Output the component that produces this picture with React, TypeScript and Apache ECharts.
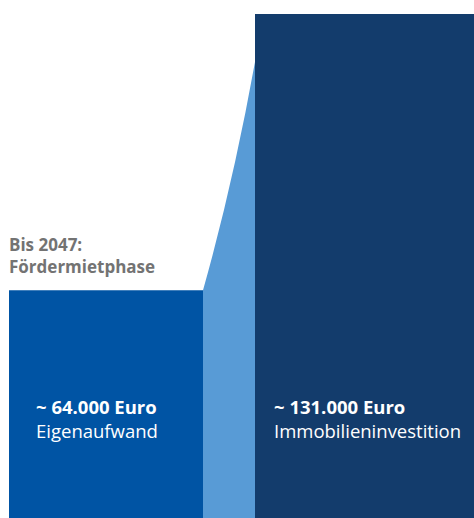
import React, { useEffect, useRef } from "react";
import * as echarts from "echarts";

// ---- data ----
const categories = ["Eigenaufwand", "Immobilieninvestition"];
const amounts = [64000, 131000];
const phaseLines = ["Bis 2047:", "Fördermietphase"];
const currency = "Euro";

// ---- layout / style (not data) ----
const VIEW_W = 474;
const VIEW_H = 518;
const CHART_H = 554; // baseline (zero) lies below the visible frame
const BAR_SPANS: [number, number][] = [
  [0, 194],
  [246, 465],
];
const BAR_COLORS = ["#0054a4", "#133c6c"];
const CONNECTOR_COLOR = "#589bd6";
const CONNECTOR_END_FRACTION = 0.911; // of right bar height
const CONNECTOR_CTRL_X = 0.577;
const CONNECTOR_CTRL_Y = 0.465;
const LABEL_OFFSET = [27, 19];
const LABEL_BASELINE_FROM_BOTTOM = 104.5;
const LABEL_LINE_GAP = 23.5;
const LABEL_FONT_SIZE = 18.5;
const PHASE_FONT_SIZE = 17;
const PHASE_LINE_GAP = 21.7;
const PHASE_BASELINE_ABOVE_BAR = 18;
const FONT = "'Open Sans', sans-serif";

const fmt = (v: number) => "~ " + v.toLocaleString("de-DE") + " " + currency;

export default function App() {
  const ref = useRef<HTMLDivElement>(null);
  useEffect(() => {
    if (!ref.current) return;
    const chart = echarts.init(ref.current, undefined, { renderer: "svg" });

    const barData = amounts.map((v, i) => [i, v]);

    const renderBar = (params: any, api: any) => {
      const idx = api.value(0);
      const val = api.value(1);
      const span = BAR_SPANS[idx];
      const tl = api.coord([span[0], val]);
      const br = api.coord([span[1], 0]);
      const children: any[] = [
        {
          type: "rect",
          shape: { x: tl[0], y: tl[1], width: br[0] - tl[0], height: br[1] - tl[1] },
          style: { fill: BAR_COLORS[idx] },
        },
      ];
      const lx = tl[0] + LABEL_OFFSET[idx];
      const b1 = VIEW_H - LABEL_BASELINE_FROM_BOTTOM;
      const capMid = 0.36 * LABEL_FONT_SIZE;
      children.push({
        type: "text",
        x: lx,
        y: b1 - capMid,
        style: {
          text: fmt(val),
          fill: "#ffffff",
          font: `bold ${LABEL_FONT_SIZE}px ${FONT}`,
          align: "left",
          verticalAlign: "middle",
        },
      });
      children.push({
        type: "text",
        x: lx,
        y: b1 + LABEL_LINE_GAP - capMid,
        style: {
          text: categories[idx],
          fill: "#ffffff",
          font: `normal ${LABEL_FONT_SIZE}px ${FONT}`,
          align: "left",
          verticalAlign: "middle",
        },
      });
      if (idx === 0) {
        const pm = 0.36 * PHASE_FONT_SIZE;
        const base2 = tl[1] - PHASE_BASELINE_ABOVE_BAR;
        const base1 = base2 - PHASE_LINE_GAP;
        [base1, base2].forEach((b, k) => {
          children.push({
            type: "text",
            x: tl[0],
            y: b - pm,
            style: {
              text: phaseLines[k],
              fill: "#737373",
              font: `bold ${PHASE_FONT_SIZE}px ${FONT}`,
              align: "left",
              verticalAlign: "middle",
            },
          });
        });
      }
      return { type: "group", children };
    };

    const renderConnector = (params: any, api: any) => {
      const a = api.value(0);
      const b = api.value(1);
      const x0 = BAR_SPANS[0][1];
      const x1 = BAR_SPANS[1][0];
      const endVal = b * CONNECTOR_END_FRACTION;
      const p0 = api.coord([x0, a]);
      const p1 = api.coord([x1, endVal]);
      const c = api.coord([x0 + CONNECTOR_CTRL_X * (x1 - x0), a + CONNECTOR_CTRL_Y * (endVal - a)]);
      const base = api.coord([x1, 0])[1];
      const d = `M${p0[0]} ${base} L${p0[0]} ${p0[1]} Q${c[0]} ${c[1]} ${p1[0]} ${p1[1]} L${p1[0]} ${p1[1] - 1} L${p1[0] + 1} ${p1[1] - 1} L${p1[0] + 1} ${base} Z`;
      return {
        type: "path",
        shape: { pathData: d },
        style: { fill: CONNECTOR_COLOR },
      };
    };

    chart.setOption({
      animation: false,
      grid: { left: 9, right: 0, top: 14, bottom: 0 },
      xAxis: { type: "value", min: 0, max: 465, show: false },
      yAxis: { type: "value", min: 0, max: 131000, show: false },
      series: [
        {
          type: "custom",
          renderItem: renderConnector,
          data: [[amounts[0], amounts[1]]],
          z: 1,
          silent: true,
          clip: false,
        },
        {
          type: "custom",
          renderItem: renderBar,
          data: barData,
          z: 2,
          silent: true,
          clip: false,
        },
      ],
    });
    return () => chart.dispose();
  }, []);
  return (
    <div style={{ position: "absolute", left: 0, top: 0, width: VIEW_W, height: VIEW_H, overflow: "hidden" }}>
      <div ref={ref} style={{ width: VIEW_W, height: CHART_H }} />
    </div>
  );
}
